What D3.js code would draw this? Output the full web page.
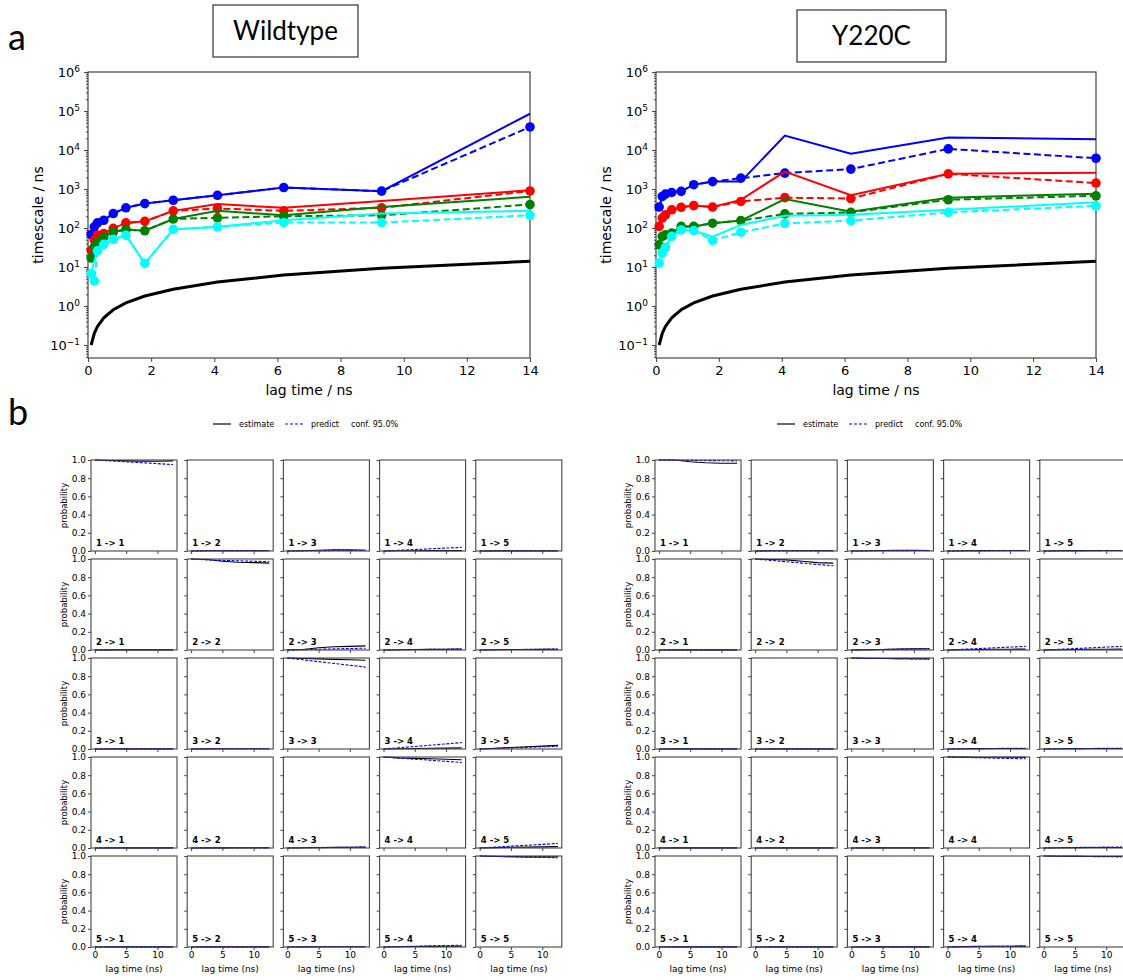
<!DOCTYPE html>
<html>
<head>
<meta charset="utf-8">
<script src="https://cdn.jsdelivr.net/npm/d3@7/dist/d3.min.js"></script>
<style>
  body { margin: 0; background: #fff; }
  svg { display: block; }
  text { font-family: "DejaVu Sans", sans-serif; fill: #000; }
</style>
</head>
<body>
<svg id="fig" width="1123" height="980"></svg>
<script>
// ---- part a: implied timescales ----
const lagTimes = [0.1, 0.2, 0.3, 0.5, 0.8, 1.2, 1.8, 2.7, 4.1, 6.2, 9.3, 14.0];
const lagTimeRef = [0.1, 0.2, 0.3, 0.5, 0.8, 1.2, 1.8, 2.7, 4.1, 6.2, 9.3, 14.0];
const procColors = ['blue', 'red', 'green', 'cyan'];
const xTicksA = [0, 2, 4, 6, 8, 10, 12, 14];
const yTickExps = [-1, 0, 1, 2, 3, 4, 5, 6];

// wildtype, solid lines
const wtSolid1 = [68, 107, 135, 158, 235, 330, 423, 515, 690, 1090, 880, 85000];
const wtSolid2 = [27, 49, 66, 72, 98, 135, 148, 275, 410, 330, 490, 930];
const wtSolid3 = [17, 33, 44, 59, 79, 92, 85, 170, 275, 212, 345, 630];
const wtSolid4 = [7, 14, 27, 38, 51, 65, 12.4, 92, 107, 158, 235, 275];
// wildtype, dashed lines with markers
const wtDash1 = [68, 107, 135, 158, 235, 330, 423, 515, 690, 1090, 880, 39000];
const wtDash2 = [27, 49, 66, 72, 98, 135, 148, 275, 316, 275, 330, 890];
const wtDash3 = [17, 33, 44, 59, 79, 92, 85, 170, 183, 200, 212, 400];
const wtDash4 = [6.8, 4.4, 26, 38, 51, 65, 12.4, 92, 107, 138, 138, 212];

// Y220C, solid lines
const mutSolid1 = [345, 645, 740, 815, 870, 1290, 1550, 1550, 23400, 8000, 21000, 19000];
const mutSolid2 = [110, 180, 217, 293, 340, 375, 345, 525, 2800, 690, 2450, 2600];
const mutSolid3 = [37, 61, 67, 74, 110, 110, 133, 155, 550, 263, 600, 760];
const mutSolid4 = [12.6, 23, 32, 61, 89, 86, 60, 120, 205, 218, 293, 455];
// Y220C, dashed lines with markers
const mutDash1 = [345, 645, 740, 815, 870, 1290, 1550, 1900, 2560, 3240, 10700, 6150];
const mutDash2 = [110, 180, 217, 293, 340, 375, 345, 480, 600, 570, 2450, 1420];
const mutDash3 = [37, 61, 67, 74, 110, 110, 133, 155, 230, 252, 530, 670];
const mutDash4 = [12.6, 23, 32, 61, 89, 86, 48, 78, 131, 155, 251, 370];

// ---- part b: Chapman-Kolmogorov test ----
const ckLags = [0, 2.5, 5, 7.5, 10, 12.5];
const ckStates = ['1', '2', '3', '4', '5'];
const ckYTicks = [0, 0.2, 0.4, 0.6, 0.8, 1.0];
const ckXTicks = [0, 5, 10];

// rows = from state, cols = to state
const wtEstimate = [
  [[1, 0.995, 0.99, 0.988, 0.987, 0.99], [0, 0.002, 0.003, 0.003, 0.003, 0.003], [0, 0.003, 0.008, 0.012, 0.013, 0.008], [0, 0.002, 0.003, 0.004, 0.004, 0.004], [0, 0.001, 0.001, 0.001, 0.001, 0.001]],
  [[0, 0.001, 0.001, 0.001, 0.001, 0.001], [1, 0.995, 0.975, 0.965, 0.96, 0.955], [0, 0.005, 0.025, 0.035, 0.04, 0.045], [0, 0.003, 0.005, 0.007, 0.008, 0.01], [0, 0.003, 0.005, 0.006, 0.007, 0.008]],
  [[0, 0.001, 0.001, 0.001, 0.001, 0.001], [0, 0.001, 0.002, 0.002, 0.002, 0.002], [1, 0.995, 0.99, 0.985, 0.98, 0.975], [0, 0.003, 0.006, 0.008, 0.01, 0.012], [0, 0.008, 0.016, 0.024, 0.032, 0.04]],
  [[0, 0.001, 0.001, 0.001, 0.001, 0.001], [0, 0.001, 0.001, 0.002, 0.002, 0.002], [0, 0.003, 0.005, 0.007, 0.008, 0.01], [1, 0.99, 0.985, 0.98, 0.975, 0.97], [0, 0.004, 0.008, 0.01, 0.012, 0.015]],
  [[0, 0.001, 0.001, 0.001, 0.001, 0.001], [0, 0.001, 0.001, 0.001, 0.001, 0.001], [0, 0.001, 0.002, 0.002, 0.002, 0.002], [0, 0.003, 0.005, 0.007, 0.008, 0.01], [1, 0.995, 0.993, 0.99, 0.99, 0.99]]
];
const wtPredict = [
  [[1, 0.99, 0.98, 0.97, 0.96, 0.95], [0, 0.002, 0.003, 0.004, 0.004, 0.005], [0, 0.002, 0.004, 0.005, 0.006, 0.007], [0, 0.008, 0.016, 0.024, 0.032, 0.04], [0, 0.002, 0.002, 0.002, 0.002, 0.002]],
  [[0, 0.002, 0.002, 0.002, 0.002, 0.002], [1, 0.99, 0.985, 0.98, 0.975, 0.97], [0, 0.004, 0.008, 0.012, 0.016, 0.02], [0, 0.003, 0.005, 0.007, 0.009, 0.01], [0, 0.003, 0.005, 0.007, 0.009, 0.01]],
  [[0, 0.001, 0.001, 0.001, 0.001, 0.001], [0, 0.002, 0.002, 0.002, 0.002, 0.002], [1, 0.98, 0.96, 0.94, 0.92, 0.9], [0, 0.014, 0.028, 0.042, 0.056, 0.07], [0, 0.006, 0.012, 0.018, 0.024, 0.03]],
  [[0, 0.001, 0.001, 0.001, 0.001, 0.001], [0, 0.001, 0.001, 0.001, 0.001, 0.001], [0, 0.002, 0.004, 0.006, 0.008, 0.01], [1, 0.988, 0.976, 0.964, 0.952, 0.94], [0, 0.01, 0.02, 0.03, 0.04, 0.05]],
  [[0, 0.001, 0.001, 0.001, 0.001, 0.001], [0, 0.001, 0.001, 0.001, 0.001, 0.001], [0, 0.001, 0.002, 0.003, 0.003, 0.003], [0, 0.004, 0.008, 0.012, 0.016, 0.02], [1, 0.996, 0.992, 0.988, 0.984, 0.98]]
];
const mutEstimate = [
  [[1, 1, 0.98, 0.97, 0.965, 0.965], [0, 0.002, 0.002, 0.002, 0.002, 0.002], [0, 0.003, 0.006, 0.008, 0.008, 0.006], [0, 0.003, 0.004, 0.005, 0.005, 0.005], [0, 0.003, 0.004, 0.005, 0.005, 0.005]],
  [[0, 0.001, 0.001, 0.001, 0.001, 0.001], [1, 0.995, 0.99, 0.975, 0.96, 0.955], [0, 0.003, 0.006, 0.01, 0.012, 0.013], [0, 0.003, 0.006, 0.008, 0.009, 0.01], [0, 0.003, 0.006, 0.008, 0.009, 0.01]],
  [[0, 0.001, 0.001, 0.001, 0.001, 0.001], [0, 0.001, 0.001, 0.001, 0.001, 0.001], [1, 0.995, 0.995, 0.993, 0.993, 0.99], [0, 0.002, 0.004, 0.005, 0.005, 0.005], [0, 0.002, 0.004, 0.005, 0.005, 0.005]],
  [[0, 0.001, 0.001, 0.001, 0.001, 0.001], [0, 0.001, 0.001, 0.001, 0.001, 0.001], [0, 0.001, 0.001, 0.001, 0.001, 0.001], [1, 0.999, 0.998, 0.997, 0.997, 0.996], [0, 0.002, 0.004, 0.005, 0.005, 0.005]],
  [[0, 0.001, 0.001, 0.001, 0.001, 0.001], [0, 0.001, 0.001, 0.001, 0.001, 0.001], [0, 0.001, 0.001, 0.001, 0.001, 0.001], [0, 0.004, 0.007, 0.008, 0.009, 0.01], [1, 0.997, 0.996, 0.995, 0.995, 0.995]]
];
const mutPredict = [
  [[1, 0.998, 0.996, 0.994, 0.992, 0.99], [0, 0.002, 0.003, 0.003, 0.003, 0.003], [0, 0.002, 0.003, 0.004, 0.005, 0.005], [0, 0.002, 0.003, 0.004, 0.005, 0.006], [0, 0.002, 0.003, 0.004, 0.005, 0.006]],
  [[0, 0.001, 0.001, 0.001, 0.001, 0.001], [1, 0.985, 0.97, 0.955, 0.94, 0.925], [0, 0.003, 0.006, 0.009, 0.011, 0.013], [0, 0.008, 0.016, 0.024, 0.032, 0.04], [0, 0.008, 0.016, 0.024, 0.032, 0.04]],
  [[0, 0.001, 0.001, 0.001, 0.001, 0.001], [0, 0.001, 0.001, 0.001, 0.001, 0.001], [1, 0.997, 0.995, 0.993, 0.99, 0.988], [0, 0.002, 0.004, 0.006, 0.007, 0.008], [0, 0.002, 0.004, 0.006, 0.007, 0.008]],
  [[0, 0.001, 0.001, 0.001, 0.001, 0.001], [0, 0.001, 0.001, 0.001, 0.001, 0.001], [0, 0.001, 0.002, 0.002, 0.002, 0.002], [1, 0.996, 0.992, 0.988, 0.984, 0.98], [0, 0.003, 0.006, 0.008, 0.01, 0.012]],
  [[0, 0.001, 0.001, 0.001, 0.001, 0.001], [0, 0.001, 0.001, 0.001, 0.001, 0.001], [0, 0.001, 0.001, 0.001, 0.001, 0.001], [0, 0.003, 0.005, 0.007, 0.008, 0.01], [1, 0.998, 0.996, 0.994, 0.992, 0.99]]
];

const svg = d3.select('#fig');
const frameColor = '#444';

function drawTimescales(box, solids, dashes, title) {
  const g = svg.append('g');
  const x = d3.scaleLinear().domain([0, 14]).range([box.x0, box.x1]);
  const y = d3.scaleLog().domain([Math.pow(10, -1.333), 1e6]).range([box.y1, box.y0]);

  // title box
  g.append('rect')
    .attr('x', title.x).attr('y', title.y)
    .attr('width', title.w).attr('height', title.h)
    .attr('fill', 'none').attr('stroke', '#333').attr('stroke-width', 1.2);
  g.append('text')
    .attr('x', title.x + title.w / 2).attr('y', title.y + title.h / 2 + 9)
    .attr('text-anchor', 'middle')
    .style('font-family', 'Lato, "Open Sans", sans-serif')
    .style('font-size', '26px')
    .text(title.text);

  // x axis
  g.append('g')
    .attr('transform', `translate(0,${box.y1})`)
    .call(d3.axisBottom(x).tickValues(xTicksA).tickSize(4).tickPadding(4))
    .call(a => a.select('.domain').remove())
    .call(a => a.selectAll('.tick line').attr('stroke', frameColor))
    .call(a => a.selectAll('.tick text').style('font-size', '13px').style('font-family', '"DejaVu Sans"'));

  // y axis, major decades
  g.append('g')
    .attr('transform', `translate(${box.x0},0)`)
    .call(d3.axisLeft(y).tickValues(yTickExps.map(e => Math.pow(10, e))).tickSize(4).tickPadding(4).tickFormat(''))
    .call(a => a.select('.domain').remove())
    .call(a => a.selectAll('.tick line').attr('stroke', frameColor))
    .call(a => a.selectAll('.tick text')
      .style('font-size', '13px').style('font-family', '"DejaVu Sans"')
      .each(function(d) {
        const t = d3.select(this);
        const e = Math.round(Math.log10(d));
        t.append('tspan').text('10');
        t.append('tspan').attr('dy', '-0.55em').style('font-size', '9px')
          .text(e < 0 ? '\u2212' + (-e) : String(e));
      }));

  // y axis, minor ticks
  const minor = [];
  yTickExps.concat([-2]).forEach(e => {
    [2, 3, 4, 5, 6, 7, 8, 9].forEach(m => {
      const v = m * Math.pow(10, e);
      if (v > y.domain()[0] && v < y.domain()[1]) minor.push(v);
    });
  });
  g.append('g')
    .attr('transform', `translate(${box.x0},0)`)
    .call(d3.axisLeft(y).tickValues(minor).tickSize(2).tickFormat(''))
    .call(a => a.select('.domain').remove())
    .call(a => a.selectAll('.tick line').attr('stroke', frameColor));

  // frame
  g.append('rect')
    .attr('x', box.x0).attr('y', box.y0)
    .attr('width', box.x1 - box.x0).attr('height', box.y1 - box.y0)
    .attr('fill', 'none').attr('stroke', frameColor).attr('stroke-width', 1.2);

  // axis labels
  g.append('text')
    .attr('x', (box.x0 + box.x1) / 2).attr('y', box.y1 + 37)
    .attr('text-anchor', 'middle').style('font-size', '14px')
    .text('lag time / ns');
  g.append('text')
    .attr('transform', `translate(${box.x0 - 45},${(box.y0 + box.y1) / 2}) rotate(-90)`)
    .attr('text-anchor', 'middle').style('font-size', '14px')
    .text('timescale / ns');

  const line = d3.line().x((d, i) => x(lagTimes[i])).y(d => y(d));
  const plot = g.append('g');

  procColors.forEach((c, k) => {
    plot.append('path').datum(solids[k])
      .attr('fill', 'none').attr('stroke', c).attr('stroke-width', 2)
      .attr('d', line);
    plot.append('path').datum(dashes[k])
      .attr('fill', 'none').attr('stroke', c).attr('stroke-width', 2)
      .attr('stroke-dasharray', '7,3.5')
      .attr('d', line);
    plot.selectAll(null).data(dashes[k]).join('circle')
      .attr('cx', (d, i) => x(lagTimes[i]))
      .attr('cy', d => y(d))
      .attr('r', 4.8)
      .attr('fill', c);
  });

  plot.append('path').datum(lagTimeRef)
    .attr('fill', 'none').attr('stroke', '#000').attr('stroke-width', 3)
    .attr('d', line);
}

drawTimescales({ x0: 88, x1: 530, y0: 72, y1: 358 },
  [wtSolid1, wtSolid2, wtSolid3, wtSolid4], [wtDash1, wtDash2, wtDash3, wtDash4],
  { x: 213, y: 5, w: 145, h: 52, text: 'Wildtype' });
drawTimescales({ x0: 656, x1: 1096, y0: 72, y1: 358 },
  [mutSolid1, mutSolid2, mutSolid3, mutSolid4], [mutDash1, mutDash2, mutDash3, mutDash4],
  { x: 797, y: 10, w: 149, h: 52, text: 'Y220C' });

// panel letters
svg.append('text').attr('x', 8).attr('y', 50)
  .style('font-family', 'Lato, "Open Sans", sans-serif').style('font-size', '36px').text('a');
svg.append('text').attr('x', 8).attr('y', 425)
  .style('font-family', 'Lato, "Open Sans", sans-serif').style('font-size', '36px').text('b');

function drawCK(left, estimate, predict) {
  const g = svg.append('g');
  const pw = 86, ph = 91, colStep = 96.2, rowStep = 99;
  const top = 460;

  // legend
  const ly = 424, lx = left + 122;
  const lg = g.append('g');
  lg.append('line').attr('x1', lx).attr('x2', lx + 18).attr('y1', ly).attr('y2', ly)
    .attr('stroke', '#000').attr('stroke-width', 1.2);
  lg.append('text').attr('x', lx + 26).attr('y', ly + 3).style('font-size', '8px').text('estimate');
  lg.append('line').attr('x1', lx + 72).attr('x2', lx + 90).attr('y1', ly).attr('y2', ly)
    .attr('stroke', 'blue').attr('stroke-width', 1.2).attr('stroke-dasharray', '3,2');
  lg.append('text').attr('x', lx + 98).attr('y', ly + 3).style('font-size', '8px').text('predict');
  lg.append('text').attr('x', lx + 138).attr('y', ly + 3).style('font-size', '8px').text('conf. 95.0%');

  ckStates.forEach((from, r) => {
    ckStates.forEach((to, c) => {
      const x0 = left + c * colStep, y0 = top + r * rowStep;
      const x = d3.scaleLinear().domain([-0.625, 13.125]).range([x0, x0 + pw]);
      const y = d3.scaleLinear().domain([0, 1]).range([y0 + ph, y0]);
      const p = g.append('g');

      p.append('g').attr('transform', `translate(${x0},0)`)
        .call(d3.axisLeft(y).tickValues(ckYTicks).tickSize(3).tickPadding(2)
          .tickFormat(c === 0 ? d3.format('.1f') : ''))
        .call(a => a.select('.domain').remove())
        .call(a => a.selectAll('.tick line').attr('stroke', frameColor))
        .call(a => a.selectAll('.tick text').style('font-size', '9px').style('font-family', '"DejaVu Sans"').attr('fill', '#222'));
      p.append('g').attr('transform', `translate(0,${y0 + ph})`)
        .call(d3.axisBottom(x).tickValues(ckXTicks).tickSize(3).tickPadding(2)
          .tickFormat(r === 4 ? d3.format('d') : ''))
        .call(a => a.select('.domain').remove())
        .call(a => a.selectAll('.tick line').attr('stroke', frameColor))
        .call(a => a.selectAll('.tick text').style('font-size', '9px').style('font-family', '"DejaVu Sans"').attr('fill', '#222'));

      const line = d3.line().x((d, i) => x(ckLags[i])).y(d => y(d));
      p.append('path').datum(estimate[r][c])
        .attr('fill', 'none').attr('stroke', '#000').attr('stroke-width', 1.1).attr('d', line);
      p.append('path').datum(predict[r][c])
        .attr('fill', 'none').attr('stroke', 'blue').attr('stroke-width', 1.1)
        .attr('stroke-dasharray', '3,1.5').attr('d', line);

      p.append('rect').attr('x', x0).attr('y', y0).attr('width', pw).attr('height', ph)
        .attr('fill', 'none').attr('stroke', frameColor).attr('stroke-width', 1.1);

      p.append('text').attr('x', x0 + 5).attr('y', y0 + ph - 5)
        .style('font-size', '8.5px').style('font-weight', 'bold')
        .text(`${from} -> ${to}`);

      if (c === 0) {
        p.append('text')
          .attr('transform', `translate(${x0 - 24},${y0 + ph / 2}) rotate(-90)`)
          .attr('text-anchor', 'middle').style('font-size', '8.5px').text('probability');
      }
      if (r === 4) {
        p.append('text').attr('x', x0 + pw / 2).attr('y', y0 + ph + 25)
          .attr('text-anchor', 'middle').style('font-size', '9px').text('lag time (ns)');
      }
    });
  });
}

drawCK(91, wtEstimate, wtPredict);
drawCK(655, mutEstimate, mutPredict);
</script>
</body>
</html>
